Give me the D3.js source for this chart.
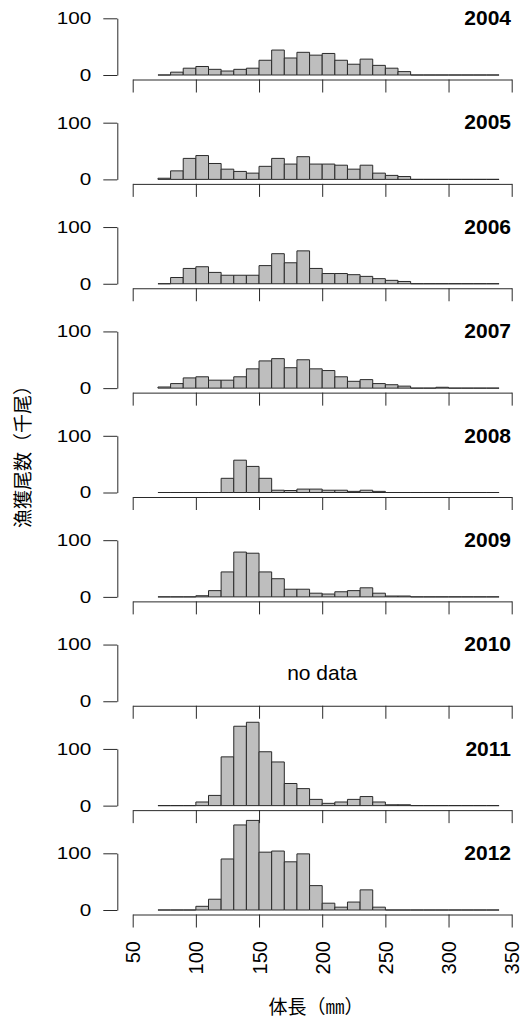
<!DOCTYPE html>
<meta charset="utf-8">
<style>

body {
  margin: 0;
  background: #fff;
}

svg text {
  font-family: "Liberation Sans", Arial, sans-serif;
  fill: #000;
}

.bar {
  fill: #bebebe;
  stroke: #2a2a2a;
  stroke-width: 1;
}

.axis path,
.axis line {
  stroke: #2a2a2a;
  stroke-width: 1;
}

.cjk {
  font-family: "Noto Sans CJK JP", sans-serif !important;
  font-size: 19px;
}

</style>

<body>

<script src="https://d3js.org/d3.v7.min.js"></script>

<svg width="526" height="1021"></svg>

<script>

// bin starts (mm), 10 mm wide
var bins = [70, 80, 90, 100, 110, 120, 130, 140, 150, 160, 170, 180, 190, 200,
            210, 220, 230, 240, 250, 260, 270, 280, 290, 300, 310, 320, 330];

var years = ["2004", "2005", "2006", "2007", "2008", "2009", "2010", "2011", "2012"];

// catch (thousand fish) per bin
var catch2004 = [0, 5, 12, 15, 10, 7, 10, 12, 26, 44, 30, 40, 35, 38, 26, 19, 28, 17, 12, 6, 0, 0, 0, 0, 0, 0, 0];
var catch2005 = [2, 15, 37, 42, 28, 18, 14, 11, 23, 37, 27, 40, 27, 27, 25, 18, 25, 11, 7, 5, 0, 0, 0, 0, 0, 0, 0];
var catch2006 = [0, 11, 27, 30, 20, 15, 15, 15, 32, 53, 37, 58, 27, 18, 18, 16, 13, 9, 6, 4, 0, 0, 0, 0, 0, 0, 0];
var catch2007 = [2, 8, 18, 20, 14, 14, 20, 34, 48, 52, 36, 50, 34, 31, 20, 12, 15, 8, 6, 3.5, 0, 0, 1.5, 0, 0, 0, 0];
var catch2008 = [0, 0, 0, 0, 0, 25, 57, 46, 25, 4, 3.5, 6, 6, 4, 4, 2, 4, 2, 0, 0, 0, 0, 0, 0, 0, 0, 0];
var catch2009 = [0, 0, 0, 2, 11, 44, 79, 77, 44, 32, 13.5, 13.5, 6.5, 5, 9, 11, 16, 6.5, 1.5, 1.5, 0, 0, 0, 0, 0, 0, 0];
var catch2010 = null; // no data
var catch2011 = [0, 0, 0, 6.4, 18, 86, 140, 147, 95, 77, 39, 30, 11, 4, 6.4, 11, 16, 6.4, 1.5, 1.5, 0, 0, 0, 0, 0, 0, 0];
var catch2012 = [0, 0, 0, 6.5, 19, 90, 150, 158, 102, 104, 85, 99, 43, 12, 5, 14, 35.5, 5, 0, 0, 0, 0, 0, 0, 0, 0, 0];

var counts = [catch2004, catch2005, catch2006, catch2007, catch2008,
              catch2009, catch2010, catch2011, catch2012];

var xTicks = [50, 100, 150, 200, 250, 300, 350];
var yTicks = [0, 100];

var binWidth = 10;

var svg = d3.select("svg");

var x = d3.scaleLinear()
    .domain([50, 350])
    .range([132.7, 511.7]);

var y = d3.scaleLinear()
    .domain([0, 100])
    .range([75, 18.3]);

var panelY = d3.scaleLinear()
    .domain([0, 8])
    .range([0, 835]);

var axisGap = 4.5;

years.forEach(function(yr, i) {
  var g = svg.append("g")
      .attr("transform", "translate(0," + panelY(i) + ")");

  // y axis
  var ya = g.append("g")
      .attr("class", "axis")
      .attr("transform", "translate(117.3,0)")
      .call(d3.axisLeft(y).tickValues(yTicks).tickSize(14).tickSizeOuter(0));
  ya.selectAll(".tick text")
      .attr("x", null)
      .attr("font-size", 17)
      .attr("transform", "translate(-26,0) scale(1.22,1)");

  // x axis
  var xa = g.append("g")
      .attr("class", "axis")
      .attr("transform", "translate(0," + (y(0) + axisGap) + ")")
      .call(d3.axisBottom(x).tickValues(xTicks).tickSize(13).tickSizeOuter(0));

  if (i === years.length - 1) {
    xa.selectAll(".tick text")
        .attr("font-size", 20)
        .attr("y", 0)
        .attr("x", -26.5)
        .attr("dy", "0.35em")
        .attr("text-anchor", "end")
        .attr("transform", "rotate(-90)");
  } else {
    xa.selectAll(".tick text").remove();
  }

  // year label
  g.append("text")
      .attr("x", 511)
      .attr("y", 25)
      .attr("text-anchor", "end")
      .attr("font-weight", "bold")
      .attr("font-size", 21)
      .text(yr);

  var data = counts[i];

  if (data == null) {
    g.append("text")
        .attr("x", x(200))
        .attr("y", y(50))
        .attr("dy", "0.35em")
        .attr("text-anchor", "middle")
        .attr("font-size", 21)
        .text("no data");
    return;
  }

  g.append("g")
    .selectAll("path")
    .data(bins.map(function(b, j) { return {start: b, value: data[j]}; }))
    .enter().append("path")
      .attr("class", "bar")
      .attr("d", function(d) {
        var x0 = x(d.start), x1 = x(d.start + binWidth);
        return "M" + x0 + "," + y(0) + "V" + y(d.value) + "H" + x1 + "V" + y(0) + "Z";
      });
});

// axis titles
svg.append("text")
    .attr("class", "cjk")
    .attr("transform", "translate(23,452) rotate(-90)")
    .attr("text-anchor", "middle")
    .attr("dy", "0.38em")
    .text("漁獲尾数（千尾）");

svg.append("text")
    .attr("class", "cjk")
    .attr("x", 316)
    .attr("y", 1014)
    .attr("text-anchor", "middle")
    .text("体長（㎜）");

</script>

</body>
